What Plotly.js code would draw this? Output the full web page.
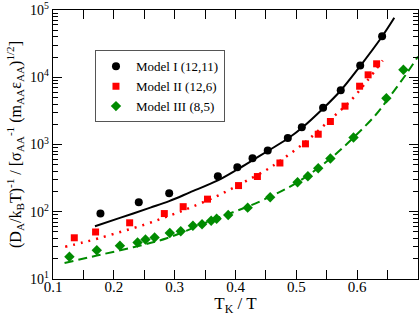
<!DOCTYPE html>
<html>
<head>
<meta charset="utf-8">
<script src="https://cdn.plot.ly/plotly-3.0.1.min.js"></script>
<style>
html,body{margin:0;padding:0;background:#fff;}
#chart{width:420px;height:316px;}
</style>
</head>
<body>
<div id="chart"></div>
<script>
// Simulation data
const modelI_x = [0.178, 0.241, 0.291, 0.371, 0.403, 0.428, 0.453, 0.486, 0.509, 0.544, 0.573, 0.605, 0.641];
const modelI_y = [94, 139, 189, 338, 459, 624, 815, 1250, 1807, 3515, 6410, 14960, 40700];

const modelII_x = [0.135, 0.170, 0.226, 0.283, 0.314, 0.354, 0.405, 0.436, 0.473, 0.515, 0.536, 0.556, 0.580, 0.604, 0.618, 0.632];
const modelII_y = [41, 50, 68.5, 94, 119, 154, 245, 334, 531, 1023, 1422, 2198, 3717, 7360, 10860, 15850];

const modelIII_x = [0.127, 0.172, 0.210, 0.239, 0.252, 0.267, 0.292, 0.310, 0.330, 0.345, 0.360, 0.369, 0.388, 0.420, 0.457, 0.502, 0.519, 0.536, 0.556, 0.594, 0.648, 0.676];
const modelIII_y = [21.4, 26.8, 31.2, 34.9, 38.6, 41.4, 48.3, 51.4, 61.8, 65.3, 73.6, 78.5, 89.5, 115, 164, 275, 338, 443, 619, 1270, 4865, 12900];

// Fit curves (sampled along the drawn lines)
const fitI_x = [0.169, 0.210, 0.260, 0.291, 0.325, 0.371, 0.403, 0.429, 0.453, 0.486, 0.509, 0.544, 0.573, 0.605, 0.641, 0.661];
const fitI_y = [61, 81, 115, 144, 194, 292, 425, 589, 800, 1227, 1758, 3428, 6353, 14690, 40360, 76560];

const fitII_x = [0.120, 0.147, 0.174, 0.213, 0.251, 0.279, 0.304, 0.329, 0.367, 0.391, 0.417, 0.452, 0.473, 0.515, 0.556, 0.590, 0.616, 0.642];
const fitII_y = [30.1, 34.5, 40.0, 50.8, 64.6, 79.4, 96.5, 118.5, 167, 214, 285, 425, 569, 1089, 2355, 4561, 8730, 17740];

const fitIII_x = [0.119, 0.172, 0.232, 0.287, 0.358, 0.441, 0.502, 0.556, 0.594, 0.631, 0.654, 0.679, 0.700];
const fitIII_y = [17.3, 22.3, 29.7, 40.4, 72.8, 143.6, 275, 619, 1270, 2793, 5224, 10620, 20370];

const seriesNames = ['Model I (12,11)', 'Model II (12,6)', 'Model III (8,5)'];

const yTickVals = [10, 100, 1000, 10000, 100000];
const yTickText = ['10<sup>1</sup>', '10<sup>2</sup>', '10<sup>3</sup>', '10<sup>4</sup>', '10<sup>5</sup>'];
const xTickVals = [0.1, 0.2, 0.3, 0.4, 0.5, 0.6];
const xTickText = ['0.1', '0.2', '0.3', '0.4', '0.5', '0.6'];

const yMinor = [];
for (let e = 1; e < 5; e++) for (let d = 2; d <= 9; d++) yMinor.push(d * Math.pow(10, e));
const xMinor = [0.15, 0.25, 0.35, 0.45, 0.55, 0.65];

const GREEN = '#008b00';
const RED = '#ff0000';

const traces = [
  {x: fitI_x, y: fitI_y, mode: 'lines', line: {color: '#000', width: 2, shape: 'spline'}, showlegend: false, hoverinfo: 'skip'},
  {x: fitII_x, y: fitII_y, mode: 'lines', line: {color: RED, width: 2.5, dash: '2px,6px', shape: 'spline'}, showlegend: false, hoverinfo: 'skip'},
  {x: fitIII_x, y: fitIII_y, mode: 'lines', line: {color: GREEN, width: 2, dash: '9px,5px', shape: 'spline'}, showlegend: false, hoverinfo: 'skip'},
  {x: modelI_x, y: modelI_y, mode: 'markers', name: seriesNames[0], marker: {symbol: 'circle', size: 8, color: '#000'}},
  {x: modelII_x, y: modelII_y, mode: 'markers', name: seriesNames[1], marker: {symbol: 'square', size: 7, color: RED}},
  {x: modelIII_x, y: modelIII_y, mode: 'markers', name: seriesNames[2], marker: {symbol: 'diamond', size: 8, color: GREEN}}
];

const FONT = 'Liberation Serif, Times New Roman, serif';

const layout = {
  width: 420, height: 316,
  margin: {l: 53, r: 2, t: 10, b: 37},
  paper_bgcolor: '#fff', plot_bgcolor: '#fff',
  font: {family: FONT, color: '#000', size: 14},
  showlegend: true,
  legend: {
    x: 0.115, y: 0.85, xanchor: 'left', yanchor: 'top',
    bordercolor: '#555', borderwidth: 1, bgcolor: '#fff',
    font: {family: FONT, size: 13, color: '#000'},
    itemwidth: 30, tracegroupgap: 0
  },
  xaxis: {
    range: [0.1, 0.7], showgrid: false, zeroline: false,
    showline: true, linecolor: '#000', linewidth: 1.3, mirror: 'allticks',
    ticks: 'inside', ticklen: 9, tickwidth: 1, tickcolor: '#000',
    tickvals: xTickVals, ticktext: xTickText,
    tickfont: {family: FONT, size: 15},
    ticklabelstandoff: -6,
    minor: {tickvals: xMinor, ticks: 'inside', ticklen: 9, tickwidth: 1, tickcolor: '#000', showgrid: false},
    title: {text: 'T<sub>K</sub> / T', font: {family: FONT, size: 17}, standoff: 2}
  },
  yaxis: {
    type: 'log', range: [1, 5], showgrid: false, zeroline: false,
    showline: true, linecolor: '#000', linewidth: 1.3, mirror: 'allticks',
    ticks: 'inside', ticklen: 9, tickwidth: 1, tickcolor: '#000',
    tickvals: yTickVals, ticktext: yTickText,
    tickfont: {family: FONT, size: 14},
    minor: {tickvals: yMinor, ticks: 'inside', ticklen: 5, tickwidth: 1, tickcolor: '#000', showgrid: false},
    title: {text: '(D<sub>A</sub>/k<sub>B</sub>T)<sup>-1</sup> / [σ<sub>AA</sub><sup>-1</sup> (m<sub>AA</sub>ε<sub>AA</sub>)<sup>1/2</sup>]', font: {family: FONT, size: 16}, standoff: 4}
  }
};

Plotly.newPlot('chart', traces, layout, {displayModeBar: false, staticPlot: true});
</script>
</body>
</html>
